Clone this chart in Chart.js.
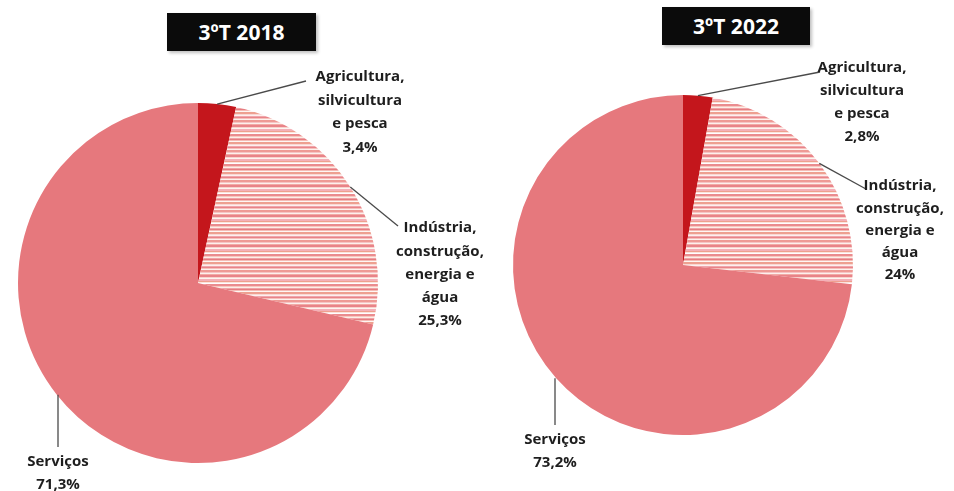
<!DOCTYPE html>
<html>
<head>
<meta charset="utf-8">
<script src="https://cdn.jsdelivr.net/npm/chart.js@4"></script>
<style>
body{margin:0;background:#fff;width:954px;height:491px;position:relative;overflow:hidden}
.box{position:absolute;width:520px;height:491px;top:0}
.ttl{position:absolute;background:#0b0b0b;color:#fff;font:bold 21px "Open Sans",sans-serif;text-align:center;box-shadow:2px 2px 3px rgba(0,0,0,.25)}
</style>
</head>
<body>
<div class="ttl" id="t1" style="left:167px;top:13px;width:149px;height:38px;line-height:38px"></div>
<div class="ttl" id="t2" style="left:662px;top:7px;width:148px;height:38px;line-height:38px"></div>
<div class="box" style="left:0"><canvas id="pie2018"></canvas></div>
<div class="box" style="left:434px"><canvas id="pie2022"></canvas></div>
<script>
const titles=["3ºT 2018","3ºT 2022"];
const categories=["Agricultura, silvicultura e pesca","Indústria, construção, energia e água","Serviços"];
const categoryLines=[["Agricultura,","silvicultura","e pesca"],["Indústria,","construção,","energia e","água"],["Serviços"]];
const values2018=[3.4,25.3,71.3];
const values2022=[2.8,24,73.2];

document.getElementById("t1").textContent=titles[0];
document.getElementById("t2").textContent=titles[1];

// striped fill for Indústria
function stripes(){
  const c=document.createElement("canvas");
  c.width=8;c.height=30;
  const g=c.getContext("2d");
  const rows=["#ee9a95","#ee9a95","#f6c4c4","#fdf0ec","#f2aaa6","#e98388","#e98388","#f8d2cc","#fdf4f0","#f4b0b8",
              "#f4b0b8","#efa08e","#fbe4de","#ffffff","#eb8c8f","#eb8c8f","#f7c8c0","#fdeee8","#f1a3a7","#e57d80",
              "#f5bcb6","#fef6f2","#eea090","#eea090","#f9d8d4","#fef0ee","#f0a6ac","#e88488","#f6c0bc","#fdf2ee"];
  rows.forEach((col,k)=>{g.fillStyle=col;g.fillRect(0,k,8,1);});
  return g.createPattern(c,"repeat");
}
const stripe=stripes();

const pct=v=>String(v).replace(".",",")+"%";

const calloutPlugin={
  id:"callouts",
  afterDatasetsDraw(chart,args,opts){
    const ctx=chart.ctx;
    const meta=chart.getDatasetMeta(0);
    const vals=chart.data.datasets[0].data;
    meta.data.forEach((arc,i)=>{
      const p=opts.pos[i];
      const mid=(arc.startAngle+arc.endAngle)/2;
      const sx=arc.x+Math.cos(mid)*arc.outerRadius;
      const sy=arc.y+Math.sin(mid)*arc.outerRadius;
      ctx.save();
      ctx.strokeStyle="#4a4a4a";ctx.lineWidth=1.3;
      ctx.beginPath();
      if(p.vertical){ctx.moveTo(p.x,sy);ctx.lineTo(p.x,p.ey);}
      else{ctx.moveTo(sx,sy);ctx.lineTo(p.ex,p.ey);}
      ctx.stroke();
      const lines=categoryLines[i].concat([pct(vals[i])]);
      ctx.fillStyle="#1e1e1e";
      ctx.font="bold 15px 'Open Sans', sans-serif";
      ctx.textAlign="center";ctx.textBaseline="middle";
      lines.forEach((t,k)=>ctx.fillText(t,p.x,p.y+k*p.lh));
      ctx.restore();
    });
  }
};

function makePie(id,values,pad,pos){
  new Chart(document.getElementById(id),{
    type:"pie",
    data:{
      labels:categories,
      datasets:[{
        data:values,
        backgroundColor:["#c4161c",stripe,"#e6787d"],
        borderWidth:0
      }]
    },
    options:{
      responsive:true,
      maintainAspectRatio:false,
      animation:false,
      layout:{padding:pad},
      plugins:{
        legend:{display:false},
        tooltip:{enabled:false},
        callouts:{pos:pos}
      }
    },
    plugins:[calloutPlugin]
  });
}

makePie("pie2018",values2018,{left:18,right:142,top:103,bottom:28},[
  {x:360,y:77,lh:23.5,ex:306,ey:81},
  {x:440,y:228,lh:23.3,ex:398,ey:226},
  {x:58,y:462,lh:23,ey:447,vertical:true}
]);
makePie("pie2022",values2022,{left:79,right:101,top:95,bottom:56},[
  {x:428,y:68,lh:23,ex:386,ey:72},
  {x:466,y:186,lh:22.3,ex:432,ey:189},
  {x:121,y:440,lh:23,ey:425,vertical:true}
]);
</script>
</body>
</html>
